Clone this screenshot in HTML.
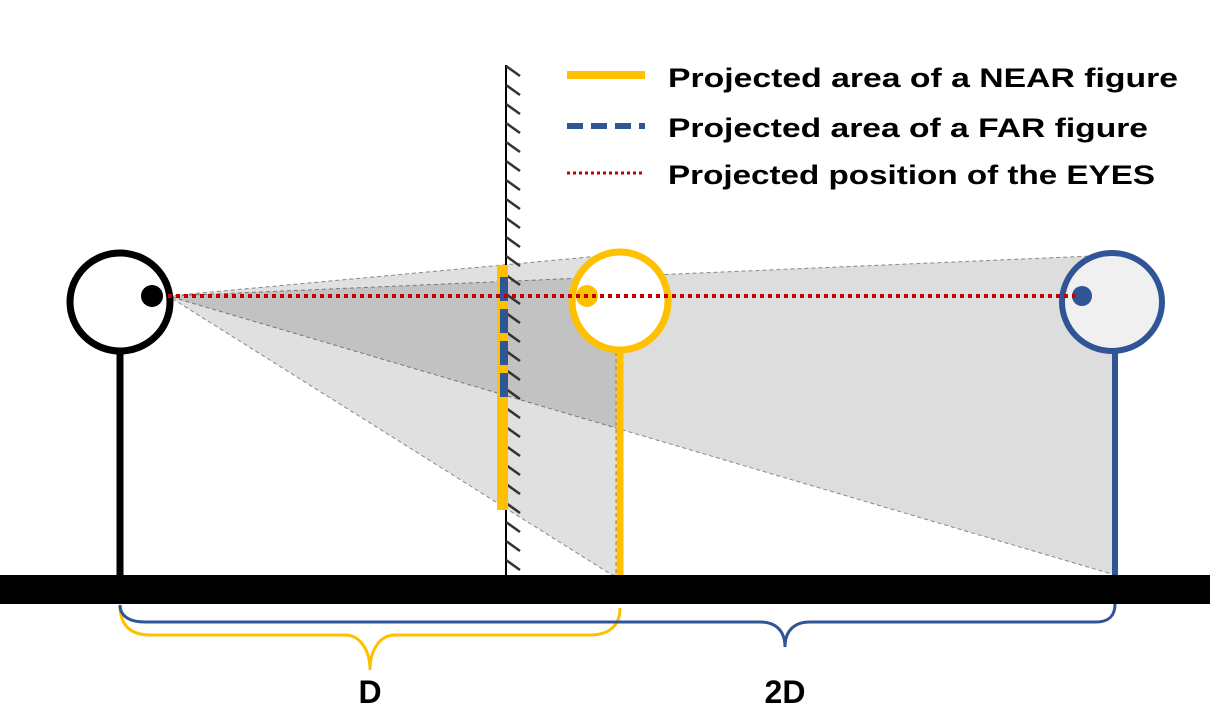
<!DOCTYPE html>
<html><head><style>body{margin:0;background:#fff}svg{display:block}</style></head><body>
<svg width="1210" height="720" viewBox="0 0 1210 720" xmlns="http://www.w3.org/2000/svg" font-family="Liberation Sans, sans-serif">
<polygon points="168,296 1115,255 1115,575" fill="#000" fill-opacity="0.135" stroke="#888" stroke-width="1" stroke-dasharray="4,3"/>
<polygon points="168,296 600,256 616,256 616,575 612,575" fill="#000" fill-opacity="0.12" stroke="#888" stroke-width="1" stroke-dasharray="4,3"/>
<line x1="506" y1="65" x2="506" y2="575" stroke="#000" stroke-width="2"/>
<g stroke="#333" stroke-width="2.5">
<path d="M506,66l14,10M506,85l14,10M506,104l14,10M506,123l14,10M506,142l14,10M506,161l14,10M506,180l14,10M506,199l14,10M506,218l14,10M506,237l14,10M506,256l14,10M506,275l14,10M506,294l14,10M506,313l14,10M506,332l14,10M506,351l14,10M506,370l14,10M506,389l14,10M506,408l14,10M506,427l14,10M506,446l14,10M506,465l14,10M506,484l14,10M506,503l14,10M506,522l14,10M506,541l14,10M506,560l14,10"/>
</g>
<rect x="497" y="265" width="11" height="245" fill="#ffc000"/>
<g fill="#2f5597"><rect x="500" y="277" width="8" height="24"/><rect x="500" y="309" width="8" height="24"/><rect x="500" y="341" width="8" height="24"/><rect x="500" y="373" width="8" height="24"/></g>
<ellipse cx="120" cy="302" rx="50" ry="49" fill="#fff" stroke="#000" stroke-width="7"/>
<line x1="120" y1="350" x2="120" y2="576" stroke="#000" stroke-width="7"/>
<circle cx="152" cy="296" r="11" fill="#000"/>
<ellipse cx="620" cy="301" rx="48" ry="49" fill="#fff" stroke="#ffc000" stroke-width="7"/>
<line x1="620" y1="350" x2="620" y2="576" stroke="#ffc000" stroke-width="7"/>
<circle cx="587" cy="296" r="11" fill="#ffc000"/>
<ellipse cx="1112" cy="302" rx="50" ry="49" fill="#f0f0f0" stroke="#2f5597" stroke-width="6"/>
<line x1="1115" y1="350" x2="1115" y2="576" stroke="#2f5597" stroke-width="6"/>
<circle cx="1082" cy="296" r="10" fill="#2f5597"/>
<line x1="168" y1="296" x2="1075" y2="296" stroke="#c00000" stroke-width="4" stroke-dasharray="4,4"/>
<rect x="0" y="575" width="1210" height="29" fill="#000"/>
<path d="M120,605 C120,625 130,635 150,635 L345,635 C360,635 370,650 370,670 C370,650 380,635 395,635 L590,635 C610,635 620,625 620,608" fill="none" stroke="#ffc000" stroke-width="3"/>
<path d="M120,605 C120,615 128,622 145,622 L760,622 C775,622 785,630 785,647 C785,630 795,622 810,622 L1095,622 C1110,622 1115,615 1115,604" fill="none" stroke="#2f5597" stroke-width="3"/>
<text x="370" y="703" font-size="32" font-weight="bold" text-anchor="middle">D</text>
<text x="785" y="703" font-size="32" font-weight="bold" text-anchor="middle">2D</text>
<line x1="567" y1="75" x2="645" y2="75" stroke="#ffc000" stroke-width="8"/>
<line x1="567" y1="126" x2="645" y2="126" stroke="#2f5597" stroke-width="6" stroke-dasharray="16,8"/>
<line x1="567" y1="173" x2="645" y2="173" stroke="#c00000" stroke-width="3" stroke-dasharray="3,3"/>
<text x="668" y="87" font-size="27" font-weight="bold" textLength="510" lengthAdjust="spacingAndGlyphs">Projected area of a NEAR figure</text>
<text x="668" y="137" font-size="27" font-weight="bold" textLength="480" lengthAdjust="spacingAndGlyphs">Projected area of a FAR figure</text>
<text x="668" y="184" font-size="27" font-weight="bold" textLength="487" lengthAdjust="spacingAndGlyphs">Projected position of the EYES</text>
</svg>
</body></html>
